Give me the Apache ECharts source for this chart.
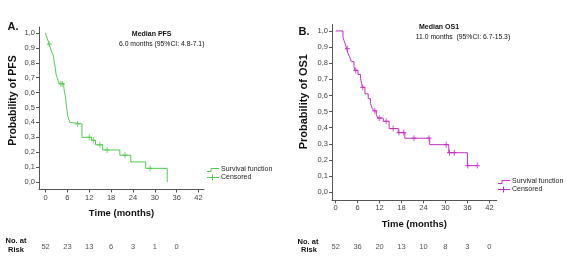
<!DOCTYPE html>
<html>
<head>
<meta charset="utf-8">
<title>KM curves</title>
<script src="https://cdn.jsdelivr.net/npm/echarts@6/dist/echarts.min.js"></script>
<style>
  html, body { margin: 0; padding: 0; background: #fff; }
  #main { width: 566px; height: 258px; }
</style>
</head>
<body>
<div id="main"></div>
<script type="text/javascript">

// panel A - PFS (step points: time in months, survival after the event)
var pfsTimes = [0, 0.2, 0.5, 0.8, 0.9, 1.3, 1.5, 1.8, 2.2, 2.4, 2.6, 2.7, 2.8, 2.9, 3.2, 3.5, 3.8,
                5.0, 5.1, 5.2, 5.4, 5.5, 5.6, 5.7, 5.8, 5.9, 6.0, 6.1, 6.4, 6.7, 7.1,
                10.0, 12.6, 13.7, 15.7, 20.4, 23.4, 27.5, 33.4];
var pfsSurv  = [1.0, 0.98, 0.96, 0.94, 0.925, 0.905, 0.885, 0.865, 0.845, 0.80, 0.78, 0.76, 0.74, 0.72, 0.70, 0.68, 0.66,
                0.64, 0.62, 0.60, 0.58, 0.56, 0.54, 0.52, 0.50, 0.48, 0.46, 0.44, 0.42, 0.40, 0.39,
                0.30, 0.28, 0.25, 0.215, 0.18, 0.135, 0.092, 0];
var pfsCensTimes = [1.0, 4.2, 4.6, 8.8, 12.0, 13.1, 14.9, 16.9, 21.8, 28.7];
var pfsCensSurv  = [0.925, 0.66, 0.66, 0.39, 0.30, 0.28, 0.25, 0.215, 0.18, 0.092];
var pfsRiskTimes = [0, 6, 12, 18, 24, 30, 36];
var pfsRisk      = [52, 23, 13, 6, 3, 1, 0];

// panel B - OS1
var osTimes = [0, 2.0, 2.3, 2.6, 3.0, 3.4, 3.8, 4.3, 5.0, 5.3, 6.1, 6.8, 7.1, 7.3, 8.0, 8.9, 9.5, 10.0, 10.4,
               11.1, 11.5, 13.0, 14.6, 17.1, 18.9, 25.7, 30.9, 36.0, 38.7];
var osSurv  = [1.0, 0.96, 0.94, 0.92, 0.89, 0.86, 0.84, 0.81, 0.78, 0.755, 0.73, 0.705, 0.675, 0.65, 0.61, 0.58, 0.55, 0.52, 0.505,
               0.48, 0.46, 0.44, 0.395, 0.37, 0.335, 0.295, 0.245, 0.165, 0.165];
var osCensTimes = [3.2, 5.5, 7.4, 10.7, 11.9, 13.8, 15.7, 17.3, 18.6, 21.4, 25.5, 30.2, 31.1, 32.4, 36.1, 38.7];
var osCensSurv  = [0.89, 0.755, 0.65, 0.505, 0.46, 0.44, 0.395, 0.37, 0.37, 0.335, 0.335, 0.295, 0.245, 0.245, 0.165, 0.165];
var osRiskTimes = [0, 6, 12, 18, 24, 30, 36, 42];
var osRisk      = [52, 36, 20, 13, 10, 8, 3, 0];

var xTicks = [0, 6, 12, 18, 24, 30, 36, 42];
var yTicks = [0, 0.1, 0.2, 0.3, 0.4, 0.5, 0.6, 0.7, 0.8, 0.9, 1.0];

var green = '#4fcc4f';
var magenta = '#c030c0';
var axisCol = '#555';
var font = 'Liberation Sans, Arial, sans-serif';

function pairs(xs, ys) {
  return xs.map(function (x, i) { return [x, ys[i]]; });
}

var plus = 'path://M2,0h1v2h2v1h-2v2h-1v-2h-2v-1h2z';

function mainX(grid, min, max, gap) {
  return {
    type: 'value', gridIndex: grid, min: min, max: max,
    splitLine: { show: false },
    axisLine: { show: true, onZero: false, lineStyle: { color: axisCol, width: 1 } },
    axisTick: { show: true, length: 3, customValues: xTicks, lineStyle: { color: axisCol } },
    axisLabel: { customValues: xTicks, fontSize: 7.5, fontFamily: font, color: '#444', margin: 4 },
    name: 'Time (months)', nameLocation: 'middle', nameGap: gap,
    nameTextStyle: { fontSize: 9.5, fontWeight: 'bold', fontFamily: font, color: '#111' }
  };
}

function riskX(grid, min, max, offset, times, counts) {
  return {
    type: 'value', gridIndex: grid, min: min, max: max, position: 'bottom', offset: offset,
    splitLine: { show: false }, axisLine: { show: false }, axisTick: { show: false },
    axisLabel: {
      customValues: times, fontSize: 7.5, fontFamily: font, color: '#555', margin: 0,
      formatter: function (v) { return String(counts[times.indexOf(v)]); }
    }
  };
}

function mainY(grid) {
  return {
    type: 'value', gridIndex: grid, min: -0.05, max: 1.04,
    splitLine: { show: false },
    axisLine: { show: true, onZero: false, lineStyle: { color: axisCol, width: 1 } },
    axisTick: { show: true, length: 3, customValues: yTicks, lineStyle: { color: axisCol } },
    axisLabel: {
      customValues: yTicks, fontSize: 7.5, fontFamily: font, color: '#444', margin: 4,
      formatter: function (v) { return v.toFixed(1).replace('.', ','); }
    }
  };
}

function txt(x, y, s, size, bold, extra) {
  var el = {
    type: 'text', x: x, y: y,
    style: {
      text: s, fontSize: size, fontWeight: bold ? 'bold' : 'normal', fontFamily: font,
      fill: '#111', align: 'center', verticalAlign: 'middle',
      textAlign: 'center', textVerticalAlign: 'middle'
    }
  };
  if (extra) { for (var k in extra) el[k] = extra[k]; }
  return el;
}

function legend(x, y, col) {
  return [
    { type: 'polyline', shape: { points: [[x, y + 3], [x + 4, y + 3], [x + 4, y], [x + 12, y]] },
      style: { stroke: col, fill: null, lineWidth: 1 } },
    { type: 'line', shape: { x1: x, y1: y + 9, x2: x + 12, y2: y + 9 }, style: { stroke: col, lineWidth: 1 } },
    { type: 'line', shape: { x1: x + 5.5, y1: y + 6, x2: x + 5.5, y2: y + 12 }, style: { stroke: col, lineWidth: 1 } },
    { type: 'text', x: x + 14, y: y + 1, style: { text: 'Survival function', fontSize: 7, fontFamily: font, fill: '#222', verticalAlign: 'middle', textVerticalAlign: 'middle' } },
    { type: 'text', x: x + 14, y: y + 9, style: { text: 'Censored', fontSize: 7, fontFamily: font, fill: '#222', verticalAlign: 'middle', textVerticalAlign: 'middle' } }
  ];
}

var chart = echarts.init(document.getElementById('main'), null, { renderer: 'canvas' });

var option = {
  animation: false,
  backgroundColor: '#fff',
  grid: [
    { left: 39, top: 27, width: 165, height: 162.5, outerBoundsMode: 'none' },
    { left: 332, top: 24.5, width: 164.7, height: 175.8, outerBoundsMode: 'none' }
  ],
  xAxis: [
    mainX(0, -1.8, 43.5, 19),
    mainX(1, -1, 44, 19.5),
    riskX(0, -1.8, 43.5, 53, pfsRiskTimes, pfsRisk),
    riskX(1, -1, 44, 43, osRiskTimes, osRisk)
  ],
  yAxis: [mainY(0), mainY(1)],
  series: [
    { type: 'line', step: 'end', xAxisIndex: 0, yAxisIndex: 0, data: pairs(pfsTimes, pfsSurv),
      showSymbol: false, lineStyle: { color: green, width: 1 }, itemStyle: { color: green } },
    { type: 'scatter', xAxisIndex: 0, yAxisIndex: 0, data: pairs(pfsCensTimes, pfsCensSurv),
      symbol: plus, symbolSize: [5, 6], itemStyle: { color: green } },
    { type: 'line', step: 'end', xAxisIndex: 1, yAxisIndex: 1, data: pairs(osTimes, osSurv),
      showSymbol: false, lineStyle: { color: magenta, width: 1 }, itemStyle: { color: magenta } },
    { type: 'scatter', xAxisIndex: 1, yAxisIndex: 1, data: pairs(osCensTimes, osCensSurv),
      symbol: plus, symbolSize: [5, 6], itemStyle: { color: magenta } }
  ],
  graphic: [
    txt(13, 27, 'A.', 11, true),
    txt(304, 32, 'B.', 11, true),
    txt(13, 100.5, 'Probability of PFS', 10.5, true, { rotation: Math.PI / 2 }),
    txt(304, 101.7, 'Probability of OS1', 11, true, { rotation: Math.PI / 2 }),
    txt(151.7, 34, 'Median PFS', 7, true),
    txt(161.7, 44.3, '6.0 months (95%CI: 4.8-7.1)', 6.8, false),
    txt(439, 27.3, 'Median OS1', 7, true),
    txt(463, 37.3, '11.0 months  (95%CI: 6.7-15.3)', 6.8, false),
    txt(16, 241, 'No. at', 7.5, true),
    txt(16, 249.5, 'Risk', 7.5, true),
    txt(308, 241.5, 'No. at', 7.5, true),
    txt(309, 249.5, 'Risk', 7.5, true)
  ].concat(legend(207, 168.5, green)).concat(legend(498, 180.5, magenta))
};

chart.setOption(option);
</script>
</body>
</html>
